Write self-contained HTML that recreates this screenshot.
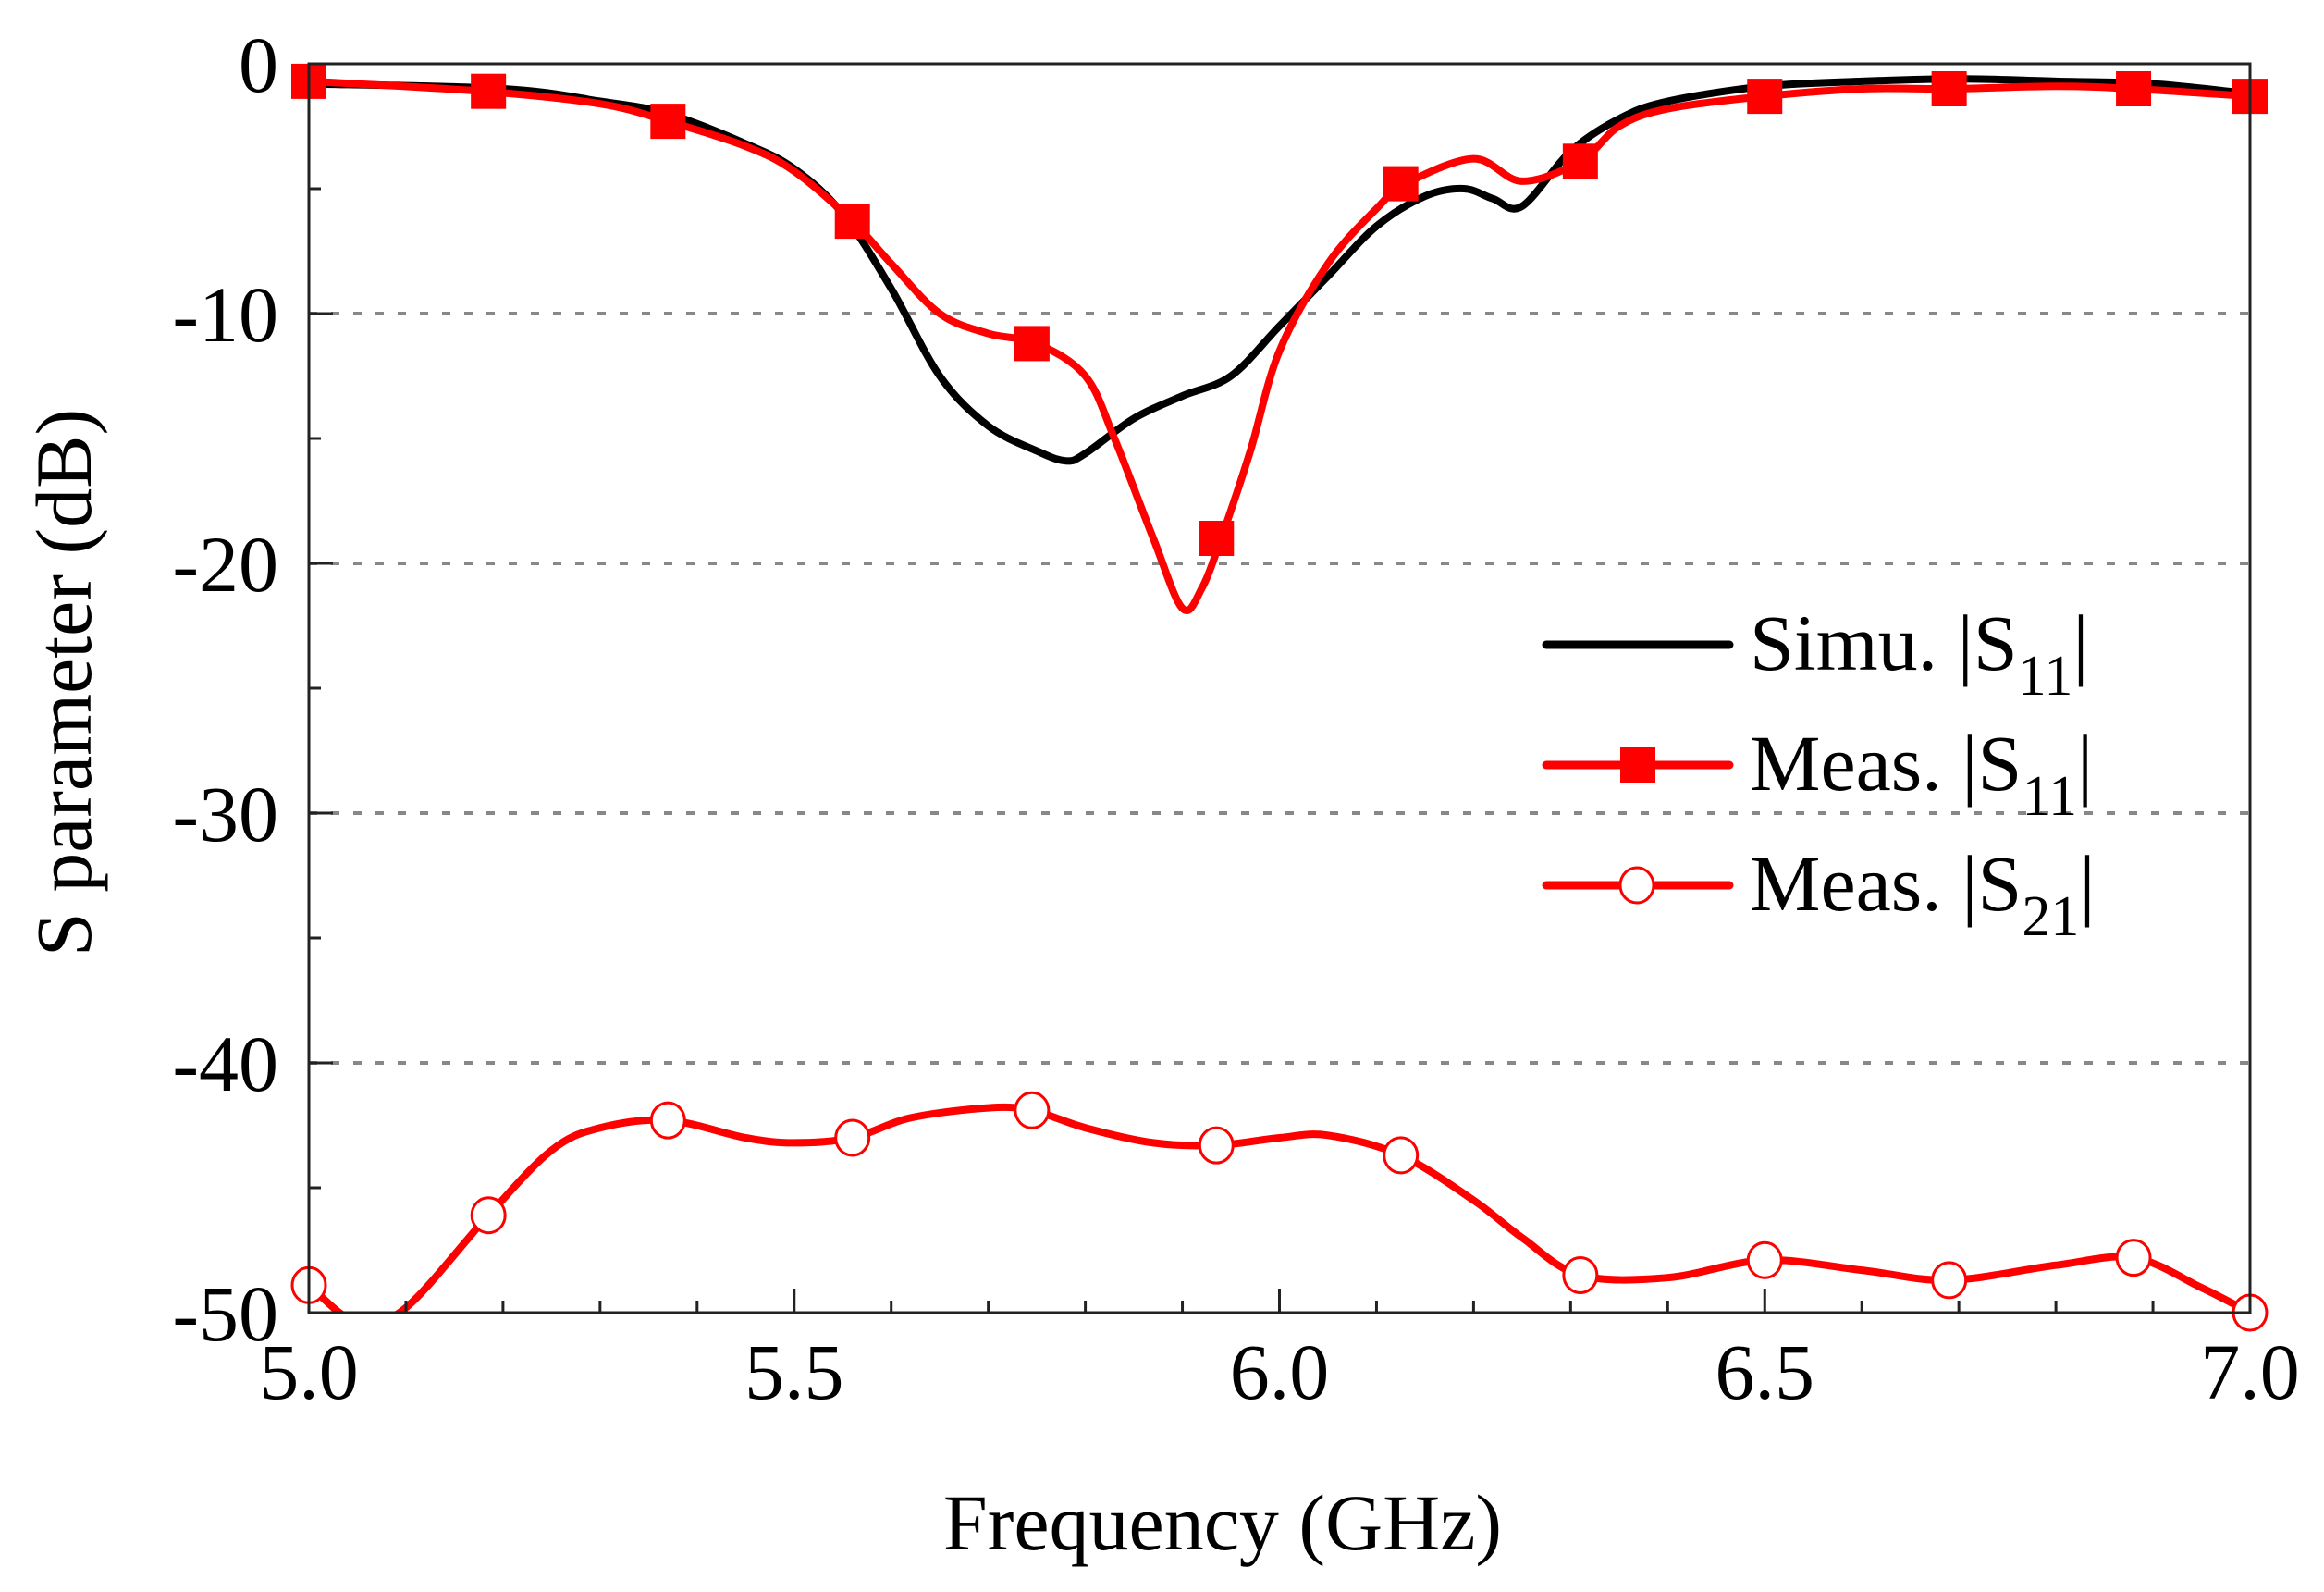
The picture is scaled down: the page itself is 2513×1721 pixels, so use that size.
<!DOCTYPE html>
<html><head><meta charset="utf-8"><style>
html,body{margin:0;padding:0;background:#fff;}
svg{display:block;font-family:"Liberation Serif",serif;}
</style></head><body>
<svg id="chart" width="2513" height="1721" viewBox="0 0 2513 1721" xmlns="http://www.w3.org/2000/svg">
<defs><clipPath id="clip"><rect x="334" y="69" width="2099" height="1350"/></clipPath></defs>
<g id="grid"></g>
<g id="series" clip-path="url(#clip)"></g>
<g id="markers"></g>
<rect x="334" y="69" width="2099" height="1350" fill="none" stroke="#222" stroke-width="3"/>
<g id="axes"></g>
<text x="1322" y="1675" font-size="86" text-anchor="middle">Frequency (GHz)</text>
<text transform="translate(98,738) rotate(-90)" font-size="86" text-anchor="middle">S parameter (dB)</text>
<g>
<g>
<line x1="1672" y1="697" x2="1870" y2="697" stroke="#000" stroke-width="9" stroke-linecap="round"/>
<text x="1892" y="724" font-size="86">Simu. |S<tspan font-size="62" dy="27">11</tspan><tspan dy="-27">|</tspan></text>
</g>
<g>
<line x1="1672" y1="827" x2="1870" y2="827" stroke="#f00" stroke-width="9" stroke-linecap="round"/>
<rect x="1752" y="808" width="38" height="38" fill="#f00"/>
<text x="1892" y="854" font-size="86">Meas. |S<tspan font-size="62" dy="27">11</tspan><tspan dy="-27">|</tspan></text>
</g>
<g>
<line x1="1672" y1="957" x2="1870" y2="957" stroke="#f00" stroke-width="9" stroke-linecap="round"/>
<ellipse cx="1770" cy="957" rx="18" ry="19" fill="#fff" stroke="#f00" stroke-width="3"/>
<text x="1892" y="984" font-size="86">Meas. |S<tspan font-size="62" dy="27">21</tspan><tspan dy="-27">|</tspan></text>
</g>
</g>
</svg>
<script>
const xTickLabels=["5.0","5.5","6.0","6.5","7.0"];
const yTickLabels=["0","-10","-20","-30","-40","-50"];
const simuF=[5.0,5.2,5.3,5.37,5.45,5.5,5.55,5.6,5.65,5.7,5.75,5.78,5.8,5.85,5.9,5.95,6.0,6.05,6.1,6.15,6.19,6.22,6.25,6.3,6.35,6.4,6.5,6.6,6.7,6.8,6.9,7.0];
const simuS11=[-0.8,-1.0,-1.5,-2.0,-3.2,-4.2,-6,-9,-12.5,-14.5,-15.5,-15.9,-15.6,-14.2,-13.3,-12.5,-10.5,-8.5,-6.5,-5.3,-5.0,-5.4,-5.7,-3.5,-2.2,-1.5,-0.9,-0.7,-0.6,-0.7,-0.8,-1.2];
const measF=[5.0,5.18,5.3,5.37,5.45,5.5,5.56,5.6,5.65,5.7,5.75,5.8,5.83,5.87,5.9,5.92,5.94,5.97,6.0,6.05,6.1,6.13,6.2,6.25,6.31,6.35,6.4,6.5,6.6,6.69,6.8,6.88,7.0];
const measS11=[-0.7,-1.1,-1.6,-2.3,-3.3,-4.3,-6.3,-8,-10,-10.8,-11.2,-12.5,-15,-19,-21.8,-21,-19,-15.5,-11.5,-8,-5.8,-4.8,-3.8,-4.7,-3.9,-2.5,-1.8,-1.3,-1.0,-1.0,-0.9,-1.0,-1.3];
const s11MarkF=[5.0,5.185,5.37,5.56,5.745,5.935,6.125,6.31,6.5,6.69,6.88,7.0];
const s11MarkV=[-0.7,-1.1,-2.3,-6.3,-11.2,-19.0,-4.8,-3.9,-1.3,-1.0,-1.0,-1.3];
const s21F=[5.0,5.05,5.1,5.185,5.25,5.3,5.37,5.45,5.5,5.56,5.62,5.7,5.745,5.8,5.87,5.935,6.0,6.05,6.125,6.2,6.25,6.31,6.4,6.5,6.6,6.69,6.8,6.88,6.95,7.0];
const s21=[-48.9,-50.4,-49.8,-46.1,-43.5,-42.6,-42.3,-43.0,-43.2,-43.0,-42.2,-41.8,-41.9,-42.6,-43.2,-43.3,-43.0,-42.9,-43.7,-45.5,-47,-48.5,-48.6,-47.9,-48.3,-48.7,-48.1,-47.8,-49,-50];
const s21MarkF=[5.0,5.185,5.37,5.56,5.745,5.935,6.125,6.31,6.5,6.69,6.88,7.0];
const s21MarkV=[-48.9,-46.1,-42.3,-43.0,-41.9,-43.3,-43.7,-48.5,-47.9,-48.7,-47.8,-50];
const NS="http://www.w3.org/2000/svg";
const X=f=>334+(f-5)*1049.5;
const Y=v=>69+(-v)*27;
function mk(t,a,p){const e=document.createElementNS(NS,t);for(const k in a)e.setAttribute(k,a[k]);p.appendChild(e);return e;}
function smooth(xs,ys){const P=xs.map((x,i)=>[X(x),Y(ys[i])]);let d="M"+P[0][0]+","+P[0][1];
for(let i=0;i<P.length-1;i++){const p0=P[Math.max(0,i-1)],p1=P[i],p2=P[i+1],p3=P[Math.min(P.length-1,i+2)];
d+=" C"+(p1[0]+(p2[0]-p0[0])/6)+","+(p1[1]+(p2[1]-p0[1])/6)+" "+(p2[0]-(p3[0]-p1[0])/6)+","+(p2[1]-(p3[1]-p1[1])/6)+" "+p2[0]+","+p2[1];}return d;}
const grid=document.getElementById('grid'),axes=document.getElementById('axes'),ser=document.getElementById('series'),mg=document.getElementById('markers');
for(let v=-10;v>=-40;v-=10){const l=mk('line',{x1:334,x2:2433,y1:Y(v),y2:Y(v),stroke:'#888','stroke-width':4,'stroke-dasharray':'9 15'},grid);

}
yTickLabels.forEach((s,i)=>{const v=-10*i;const t=mk('text',{x:301,y:Y(v)+30,'font-size':86,'text-anchor':'end'},axes);t.textContent=s;


mk('line',{x1:334,x2:360,y1:Y(v),y2:Y(v),stroke:'#222','stroke-width':3},axes);
if(i<5)mk('line',{x1:334,x2:347,y1:Y(v-5),y2:Y(v-5),stroke:'#222','stroke-width':3},axes);});
xTickLabels.forEach((s,i)=>{const f=5+0.5*i;const t=mk('text',{x:X(f),y:1512,'font-size':86,'text-anchor':'middle'},axes);t.textContent=s;

});
for(let k=0;k<=20;k++){const f=5+k*0.1;const len=(k%5==0)?26:13;mk('line',{x1:X(f),x2:X(f),y1:1419,y2:1419-len,stroke:'#222','stroke-width':3},axes);}
const p1=mk('path',{d:smooth(simuF,simuS11),fill:'none',stroke:'#000','stroke-width':8,'stroke-linejoin':'round'},ser);


const p2=mk('path',{d:smooth(measF,measS11),fill:'none',stroke:'#f00','stroke-width':8,'stroke-linejoin':'round'},ser);


const p3=mk('path',{d:smooth(s21F,s21),fill:'none',stroke:'#f00','stroke-width':8,'stroke-linejoin':'round'},ser);


s11MarkF.forEach((f,i)=>{const r=mk('rect',{x:X(f)-19,y:Y(s11MarkV[i])-19,width:38,height:38,fill:'#f00'},mg);

});
s21MarkF.forEach((f,i)=>{const c=mk('ellipse',{cx:X(f),cy:Y(s21MarkV[i]),rx:18,ry:19,fill:'#fff',stroke:'#f00','stroke-width':3},mg);

});
</script>
</body></html>
